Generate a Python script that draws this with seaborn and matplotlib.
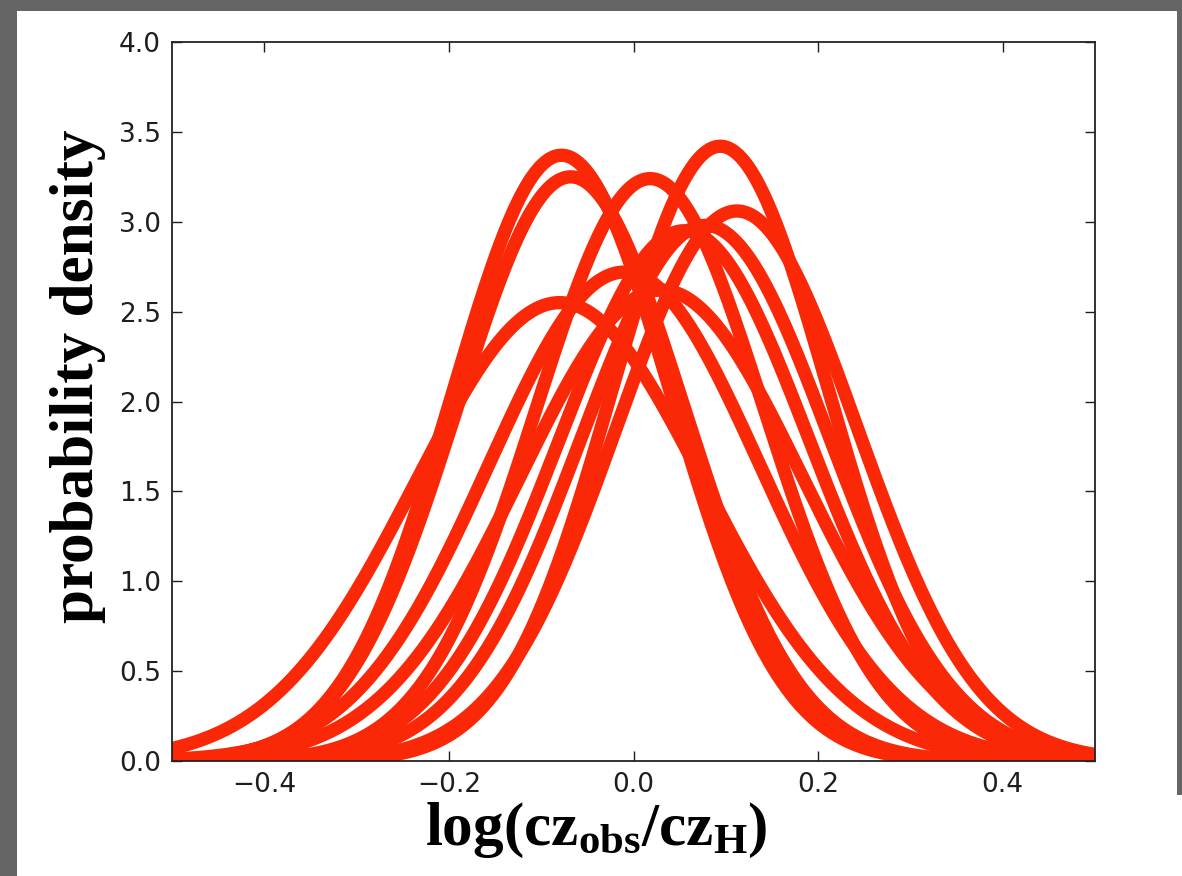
import numpy as np
import pandas as pd
import matplotlib
matplotlib.use("Agg")
import matplotlib.pyplot as plt
from matplotlib.patches import Rectangle
import seaborn as sns

# Posterior distributions of log(cz_obs/cz_H): centre and peak density of each
centers = [-0.078, -0.068, 0.018, 0.094, 0.112, 0.078, -0.080, -0.010, 0.055, 0.030]
peaks = [3.37, 3.25, 3.24, 3.42, 3.06, 2.98, 2.55, 2.72, 2.95, 2.62]

x_ticks = [-0.4, -0.2, 0.0, 0.2, 0.4]
y_ticks = [0.0, 0.5, 1.0, 1.5, 2.0, 2.5, 3.0, 3.5, 4.0]

grid = np.linspace(-0.5, 0.5, 600)
rows = []
for i, (mu, h) in enumerate(zip(centers, peaks)):
    sigma = 1.0 / (h * np.sqrt(2 * np.pi))
    dens = np.exp(-0.5 * ((grid - mu) / sigma) ** 2) / (sigma * np.sqrt(2 * np.pi))
    rows.append(pd.DataFrame({"x": grid, "density": dens, "curve": i}))
df = pd.concat(rows, ignore_index=True)

sns.set_style("ticks")
plt.rcParams["font.family"] = ["DejaVu Sans"]
plt.rcParams["mathtext.fontset"] = "custom"
plt.rcParams["mathtext.bf"] = "Liberation Serif:bold"
plt.rcParams["mathtext.rm"] = "Liberation Serif:bold"

W, H = 1182, 876
fig = plt.figure(figsize=(W / 100, H / 100), dpi=100, facecolor="#656565")
# white panel behind the plot
for (x0, y0, x1, y1) in [(17, 11, 1177, H), (17, 795, W, H)]:
    fig.patches.append(Rectangle((x0 / W, 1 - y1 / H), (x1 - x0) / W, (y1 - y0) / H,
                                 transform=fig.transFigure, facecolor="white",
                                 edgecolor="none", zorder=-10))

ax = fig.add_axes([172 / W, 1 - 761 / H, (1095 - 172) / W, (761 - 42) / H])
ax.set_zorder(5)
ax.set_facecolor("white")

sns.lineplot(data=df, x="x", y="density", hue="curve",
             palette=["#fa2806"] * len(centers), linewidth=9.6, legend=False,
             ax=ax, estimator=None)

ax.set_xlim(-0.5, 0.5)
ax.set_ylim(0, 4.0)
ax.set_xticks(x_ticks)
ax.set_yticks(y_ticks)
ax.set_xticklabels([f"{t:.1f}".replace("-", "\u2212") for t in x_ticks])
ax.set_yticklabels([f"{t:.1f}" for t in y_ticks])
ax.tick_params(direction="in", length=7, width=1, top=True, right=True,
               labelsize=19, colors="#1e1e1e", pad=8)
for s in ax.spines.values():
    s.set_visible(True)
    s.set_linewidth(1.3)
    s.set_color("#222222")

ax.set_ylabel("probability density", family="Liberation Serif",
              fontweight="bold", fontsize=44, color="black",
              ha="center", va="center")
ax.yaxis.set_label_coords((78 - 172) / 923, (761 - 376) / 719)
ax.set_xlabel(r"$\mathbf{log(cz_{obs}/cz_{H})}$", fontsize=44, color="black",
              ha="center", va="center")
ax.xaxis.set_label_coords((596 - 172) / 923, (761 - 830) / 719)

fig.savefig("out.png", dpi=100, facecolor=fig.get_facecolor())
